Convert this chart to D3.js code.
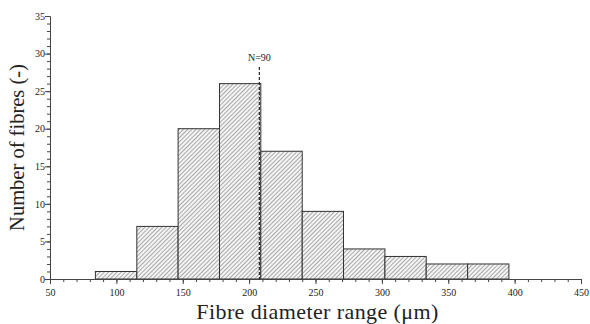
<!DOCTYPE html>
<html>
<head>
<meta charset="utf-8">
<script src="https://cdn.jsdelivr.net/npm/d3@7"></script>
<style>
  body { margin: 0; background: #fff; }
  text { font-family: "Liberation Serif", "Times New Roman", serif; fill: #222; }
</style>
</head>
<body>
<div id="chart"></div>
<script>
var svgWidth = 590;
var svgHeight = 324;

// bin edges (um) and counts
var binStarts = [84.2, 115.4, 146.5, 177.7, 208.8, 240.0, 271.1, 302.3, 333.4, 364.6];
var binEnds = [115.4, 146.5, 177.7, 208.8, 240.0, 271.1, 302.3, 333.4, 364.6, 395.7];
var counts = [1, 7, 20, 26, 17, 9, 4, 3, 2, 2];
var xTicks = [50, 100, 150, 200, 250, 300, 350, 400, 450];
var yTicks = [0, 5, 10, 15, 20, 25, 30, 35];
var meanValue = 207.7;
var meanLabel = "N=90";

var margin = { top: 16, right: 9, bottom: 45, left: 50 };
var chartWidth = svgWidth - margin.left - margin.right;
var chartHeight = svgHeight - margin.top - margin.bottom;

var svg = d3.select("#chart")
  .append("svg")
  .attr("width", svgWidth)
  .attr("height", svgHeight);

var defs = svg.append("defs");
var pattern = defs.append("pattern")
  .attr("id", "hatch")
  .attr("patternUnits", "userSpaceOnUse")
  .attr("width", 3)
  .attr("height", 3)
  .attr("patternTransform", "rotate(45)");
pattern.append("rect")
  .attr("width", 3).attr("height", 3).attr("fill", "#f4f4f4");
pattern.append("line")
  .attr("x1", 0).attr("y1", 0).attr("x2", 0).attr("y2", 3)
  .attr("stroke", "#6a6a6a").attr("stroke-width", 1.1);

var chartGroup = svg.append("g")
  .attr("transform", `translate(${margin.left}, ${margin.top})`);

var xLinearScale = d3.scaleLinear()
  .domain([50, 450])
  .range([0, chartWidth]);

var yLinearScale = d3.scaleLinear()
  .domain([0, 35])
  .range([chartHeight, 0]);

var bins = counts.map(function(c, i) {
  return { x0: binStarts[i], x1: binEnds[i], count: c };
});

chartGroup.selectAll(".bar")
  .data(bins)
  .enter()
  .append("rect")
  .attr("class", "bar")
  .attr("x", d => xLinearScale(d.x0))
  .attr("y", d => yLinearScale(d.count))
  .attr("width", d => xLinearScale(d.x1) - xLinearScale(d.x0))
  .attr("height", d => chartHeight - yLinearScale(d.count))
  .attr("fill", "url(#hatch)")
  .attr("stroke", "#333")
  .attr("stroke-width", 1);

// mean line
chartGroup.append("line")
  .attr("x1", xLinearScale(meanValue))
  .attr("x2", xLinearScale(meanValue))
  .attr("y1", 51)
  .attr("y2", chartHeight)
  .attr("stroke", "#222")
  .attr("stroke-width", 1.2)
  .attr("stroke-dasharray", "3,2");

chartGroup.append("text")
  .attr("x", xLinearScale(meanValue))
  .attr("y", 45)
  .attr("text-anchor", "middle")
  .attr("font-size", 10)
  .text(meanLabel);

// axes
var bottomAxis = d3.axisBottom(xLinearScale)
  .tickValues(xTicks)
  .tickSize(5)
  .tickSizeOuter(0);
var bottomMinor = d3.axisBottom(xLinearScale)
  .tickValues(d3.range(50, 451, 10))
  .tickSize(3)
  .tickSizeOuter(0)
  .tickFormat("");

var leftAxis = d3.axisLeft(yLinearScale)
  .tickValues(yTicks)
  .tickSize(5)
  .tickSizeOuter(0);
var leftMinor = d3.axisLeft(yLinearScale)
  .tickValues(d3.range(0, 36, 1))
  .tickSize(3)
  .tickSizeOuter(0)
  .tickFormat("");

var xMinorG = chartGroup.append("g")
  .attr("transform", `translate(0, ${chartHeight})`)
  .call(bottomMinor);
var xAxis = chartGroup.append("g")
  .attr("transform", `translate(0, ${chartHeight})`)
  .call(bottomAxis);
var yMinorG = chartGroup.append("g").call(leftMinor);
var yAxis = chartGroup.append("g").call(leftAxis);

[xMinorG, xAxis, yMinorG, yAxis].forEach(function(g) {
  g.selectAll("path, line").attr("stroke", "#444");
  g.selectAll("text")
    .attr("font-family", "Liberation Serif, serif")
    .attr("font-size", 10)
    .attr("fill", "#222");
});
xAxis.selectAll("text").attr("dy", "0.9em");
yAxis.selectAll("text").attr("x", -5);

// axis titles
chartGroup.append("text")
  .attr("x", chartWidth / 2 + 2)
  .attr("y", chartHeight + 40)
  .attr("text-anchor", "middle")
  .attr("font-size", 22)
  .attr("letter-spacing", 0.4)
  .text("Fibre diameter range (\u03bcm)");

chartGroup.append("text")
  .attr("transform", "rotate(-90)")
  .attr("x", -(chartHeight / 2))
  .attr("y", -26)
  .attr("text-anchor", "middle")
  .attr("font-size", 20.5)
  .text("Number of fibres (-)");
</script>
</body>
</html>
